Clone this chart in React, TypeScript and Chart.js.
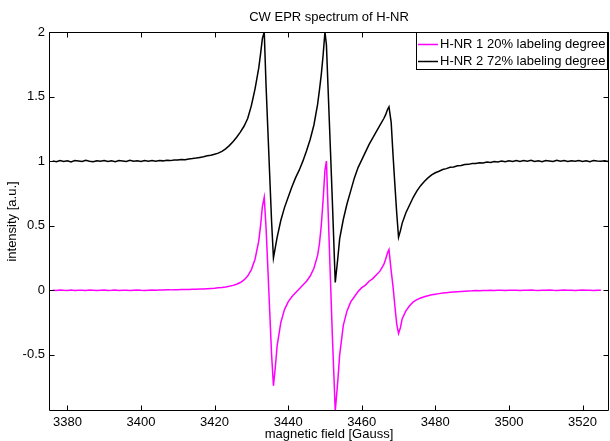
import { useEffect, useRef } from "react";
import { Chart, registerables } from "chart.js";

Chart.register(...registerables);

const chartTitle = "CW EPR spectrum of H-NR";
const xAxisTitle = "magnetic field [Gauss]";
const yAxisTitle = "intensity [a.u.]";
const seriesLabels = ["H-NR 1 20% labeling degree", "H-NR 2 72% labeling degree"];
const seriesColors = ["#ff00ff", "#000000"];

const xTickValues = [3380, 3400, 3420, 3440, 3460, 3480, 3500, 3520];
const yTickValues = [-0.5, 0, 0.5, 1, 1.5, 2];
const xMin = 3375;
const xMax = 3527.2;
const yMin = -0.935;
const yMax = 2;

// magnetic field [Gauss]
const fieldGauss = [
  3376, 3377, 3378, 3379, 3380, 3381, 3382, 3383, 3384, 3385,
  3386, 3387, 3388, 3389, 3390, 3391, 3392, 3393, 3394, 3395,
  3396, 3397, 3398, 3399, 3400, 3401, 3402, 3403, 3404, 3405,
  3406, 3407, 3408, 3409, 3410, 3411, 3412, 3413, 3414, 3415,
  3416, 3417, 3418, 3419, 3420, 3421, 3422, 3423, 3424, 3425,
  3426, 3427, 3428,
  3429, 3430, 3431, 3432, 3432.5, 3433, 3433.5, 3434, 3434.5, 3435,
  3435.5, 3436, 3436.5, 3437, 3438, 3439, 3440, 3441, 3442, 3443,
  3444, 3445, 3446, 3447, 3448, 3448.5, 3449, 3449.5, 3450, 3450.4,
  3451, 3451.5, 3452, 3452.8, 3453.5, 3454, 3455, 3456, 3457, 3458,
  3459, 3460, 3461, 3462, 3463, 3464, 3465, 3466, 3466.5, 3467,
  3467.4, 3468, 3468.5, 3469, 3469.5, 3470, 3470.5, 3471, 3472,
  3473, 3474, 3475, 3476, 3477, 3478, 3479, 3480, 3481, 3482,
  3483, 3484, 3485, 3486, 3487, 3488, 3489, 3490, 3491, 3492,
  3493, 3494, 3495, 3496, 3497, 3498, 3499, 3500, 3501, 3502,
  3503, 3504, 3505, 3506, 3507, 3508, 3509, 3510, 3511, 3512,
  3513, 3514, 3515, 3516, 3517, 3518, 3519, 3520, 3521, 3522,
  3523, 3524, 3525, 3526, 3527,
];

// H-NR 1 (20% labeling degree)
const hnr1Intensity = [
  0.001, -0.002, 0.002, 0.0, -0.001, 0.002, -0.002, 0.001, 0.0, -0.001,
  0.002, 0.0, -0.002, 0.001, 0.002, -0.001, 0.0, 0.002, -0.001, 0.001,
  0.0, -0.002, 0.001, 0.002, 0.0, -0.001, 0.001, 0.002, 0.001, 0.002,
  0.002, 0.003, 0.003, 0.004, 0.004, 0.005, 0.006, 0.006, 0.007, 0.008,
  0.009, 0.01, 0.012, 0.014, 0.016, 0.019, 0.022, 0.026, 0.031, 0.038,
  0.047, 0.06, 0.08,
  0.11, 0.16, 0.24, 0.38, 0.5, 0.65, 0.72, 0.48, 0.16, -0.17,
  -0.5, -0.74, -0.6, -0.43, -0.25, -0.15, -0.09, -0.05, -0.02, 0.01,
  0.04, 0.07, 0.11, 0.17, 0.27, 0.36, 0.5, 0.7, 0.93, 1.0,
  0.5, 0.08, -0.34, -0.935, -0.7, -0.5, -0.27, -0.16, -0.09, -0.05,
  -0.01, 0.02, 0.04, 0.07, 0.09, 0.12, 0.15, 0.2, 0.24, 0.29,
  0.315, 0.15, 0.03, -0.12, -0.26, -0.335, -0.29, -0.22, -0.16,
  -0.12, -0.09, -0.072, -0.06, -0.05, -0.042, -0.035, -0.03, -0.026, -0.022,
  -0.019, -0.016, -0.013, -0.011, -0.009, -0.007, -0.005, -0.004, -0.002, -0.003,
  -0.001, -0.002, 0.0, -0.001, 0.001, 0.0, -0.001, 0.001, 0.0, 0.001,
  -0.001, 0.001, 0.0, 0.002, 0.0, -0.001, 0.001, 0.0, 0.002, 0.0,
  -0.001, 0.001, 0.002, 0.0, 0.001, -0.001, 0.001, 0.002, 0.0, 0.001,
  -0.001, 0.001, 0.0, null, null,
];

// H-NR 2 (72% labeling degree)
const hnr2Intensity = [
  1.002, 0.996, 1.005, 0.998, 1.003, 0.994, 1.004, 1.001, 0.997, 1.006,
  0.999, 0.995, 1.003, 1.0, 1.005, 0.997, 1.002, 0.996, 1.004, 1.001,
  0.998, 1.006, 0.999, 1.003, 0.997, 1.004, 1.0, 1.005, 0.999, 1.004,
  1.002, 1.007, 1.004, 1.009, 1.008, 1.013, 1.011, 1.017, 1.02, 1.024,
  1.029, 1.034, 1.041, 1.046, 1.054, 1.062, 1.076, 1.095, 1.12, 1.15,
  1.185, 1.225, 1.27,
  1.33, 1.43, 1.56, 1.72, 1.83, 1.95, 2.0, 1.58, 1.23, 0.88,
  0.53, 0.25, 0.33, 0.41, 0.54, 0.64, 0.72, 0.8, 0.87, 0.93,
  1.0, 1.08, 1.17, 1.28, 1.44, 1.55, 1.67, 1.82, 2.0, 1.9,
  1.45, 1.08, 0.7, 0.06, 0.25, 0.4, 0.55, 0.67, 0.77, 0.87,
  0.95, 1.01, 1.07, 1.13, 1.18, 1.23, 1.28, 1.33, 1.36, 1.4,
  1.42, 1.3, 1.05, 0.82, 0.6, 0.41, 0.46, 0.52, 0.6,
  0.66, 0.72, 0.77, 0.81, 0.843, 0.87, 0.893, 0.91, 0.922, 0.935,
  0.942, 0.953, 0.955, 0.964, 0.966, 0.974, 0.975, 0.982, 0.981, 0.988,
  0.986, 0.993, 0.99, 0.997, 0.994, 1.001, 0.996, 1.003, 0.998, 1.005,
  0.997, 1.004, 1.0, 1.006, 0.998, 1.003, 0.996, 1.005, 1.001, 0.997,
  1.006, 0.999, 1.004, 0.997, 1.003, 1.0, 1.005, 0.998, 1.003, 0.996,
  1.004, 1.001, 0.999, 1.003, 0.998,
];

const FONT_FAMILY = '"Liberation Sans", Arial, Helvetica, sans-serif';

export default function App() {
  const canvasRef = useRef<HTMLCanvasElement | null>(null);

  useEffect(() => {
    const canvas = canvasRef.current;
    if (!canvas) return;

    const framePlugin = {
      id: "matlabFrame",
      afterDatasetsDraw(chart: any) {
        const { ctx, chartArea } = chart;
        const xs = chart.scales.x;
        const ys = chart.scales.y;
        const L = Math.round(chartArea.left) + 0.5;
        const R = Math.round(chartArea.right) - 0.5;
        const T = Math.round(chartArea.top) + 0.5;
        const B = Math.round(chartArea.bottom) - 0.5;
        const tick = 5;
        ctx.save();
        ctx.strokeStyle = "#000";
        ctx.lineWidth = 1;
        ctx.beginPath();
        ctx.rect(L, T, R - L, B - T);
        for (const v of xTickValues) {
          const px = Math.round(xs.getPixelForValue(v)) + 0.5;
          ctx.moveTo(px, B);
          ctx.lineTo(px, B - tick);
          ctx.moveTo(px, T);
          ctx.lineTo(px, T + tick);
        }
        for (const v of yTickValues) {
          const py = Math.round(ys.getPixelForValue(v)) + 0.5;
          ctx.moveTo(L, py);
          ctx.lineTo(L + tick, py);
          ctx.moveTo(R, py);
          ctx.lineTo(R - tick, py);
        }
        ctx.stroke();

        // legend box
        ctx.font = `13px ${FONT_FAMILY}`;
        const widths = seriesLabels.map((s) => ctx.measureText(s).width);
        const maxW = Math.max(...widths);
        const boxRight = R - 1;
        const textX = boxRight - 2 - maxW;
        const lineEnd = textX - 2;
        const lineStart = lineEnd - 20;
        const boxLeft = lineStart - 2;
        const boxTop = T;
        const boxBottom = T + 37;
        ctx.fillStyle = "#fff";
        ctx.fillRect(boxLeft, boxTop, boxRight - boxLeft, boxBottom - boxTop);
        ctx.strokeStyle = "#000";
        ctx.lineWidth = 1;
        ctx.strokeRect(Math.round(boxLeft) + 0.5, boxTop, Math.round(boxRight - boxLeft), boxBottom - boxTop);
        const rows = [T + 11, T + 28];
        chart.data.datasets.forEach((ds: any, i: number) => {
          const y = Math.round(rows[i]) + 0.5;
          ctx.strokeStyle = ds.borderColor;
          ctx.lineWidth = 1.5;
          ctx.beginPath();
          ctx.moveTo(lineStart, y);
          ctx.lineTo(lineEnd, y);
          ctx.stroke();
          ctx.fillStyle = "#000";
          ctx.textAlign = "left";
          ctx.textBaseline = "middle";
          ctx.fillText(ds.label, textX, y);
        });
        ctx.restore();
      },
    };

    const makeData = (vals: (number | null)[]) =>
      fieldGauss.map((x, i) => ({ x, y: vals[i] }));

    const tickFont = { family: FONT_FAMILY, size: 13, weight: "normal" as const, lineHeight: 1.2 };
    const titleFont = { family: FONT_FAMILY, size: 13, weight: "normal" as const, lineHeight: 1 };

    const chart = new Chart(canvas, {
      type: "line",
      data: {
        datasets: [
          {
            label: seriesLabels[0],
            data: makeData(hnr1Intensity) as any,
            borderColor: seriesColors[0],
            backgroundColor: seriesColors[0],
            borderWidth: 1.5,
            pointRadius: 0,
            tension: 0,
            fill: false,
          },
          {
            label: seriesLabels[1],
            data: makeData(hnr2Intensity) as any,
            borderColor: seriesColors[1],
            backgroundColor: seriesColors[1],
            borderWidth: 1.5,
            pointRadius: 0,
            tension: 0,
            fill: false,
          },
        ],
      },
      options: {
        responsive: false,
        animation: false,
        devicePixelRatio: 1,
        layout: { padding: { left: 0, right: 1, top: 0, bottom: 0 } },
        plugins: {
          legend: { display: false },
          tooltip: { enabled: false },
          title: {
            display: true,
            text: chartTitle,
            color: "#000",
            font: titleFont,
            fullSize: false,
            padding: { top: 10.5, bottom: 8.5 },
          } as any,
        },
        scales: {
          x: {
            type: "linear",
            min: xMin,
            max: xMax,
            afterBuildTicks: (s: any) => {
              s.ticks = xTickValues.map((v) => ({ value: v }));
            },
            afterFit: (s: any) => {
              s.height = 30;
            },
            ticks: {
              color: "#000",
              font: tickFont,
              padding: 4,
              maxRotation: 0,
              autoSkip: false,
              callback: (v: any) => String(v),
            },
            grid: { display: false, drawTicks: false },
            border: { display: false },
            title: {
              display: true,
              text: xAxisTitle,
              color: "#000",
              font: titleFont,
              padding: { top: 0, bottom: 0 },
            },
          },
          y: {
            type: "linear",
            min: yMin,
            max: yMax,
            afterBuildTicks: (s: any) => {
              s.ticks = yTickValues.map((v) => ({ value: v }));
            },
            afterFit: (s: any) => {
              s.width = 49;
            },
            ticks: {
              color: "#000",
              font: tickFont,
              padding: 4,
              autoSkip: false,
              callback: (v: any) => String(v),
            },
            grid: { display: false, drawTicks: false },
            border: { display: false },
            title: {
              display: true,
              text: yAxisTitle,
              color: "#000",
              font: titleFont,
              padding: { top: 5.5, bottom: 0 },
            },
          },
        },
      },
      plugins: [framePlugin],
    });

    return () => chart.destroy();
  }, []);

  return (
    <div style={{ position: "absolute", left: 0, top: 0, width: 610, height: 441, background: "#fff" }}>
      <canvas ref={canvasRef} width={610} height={441} style={{ display: "block", width: 610, height: 441 }} />
    </div>
  );
}
